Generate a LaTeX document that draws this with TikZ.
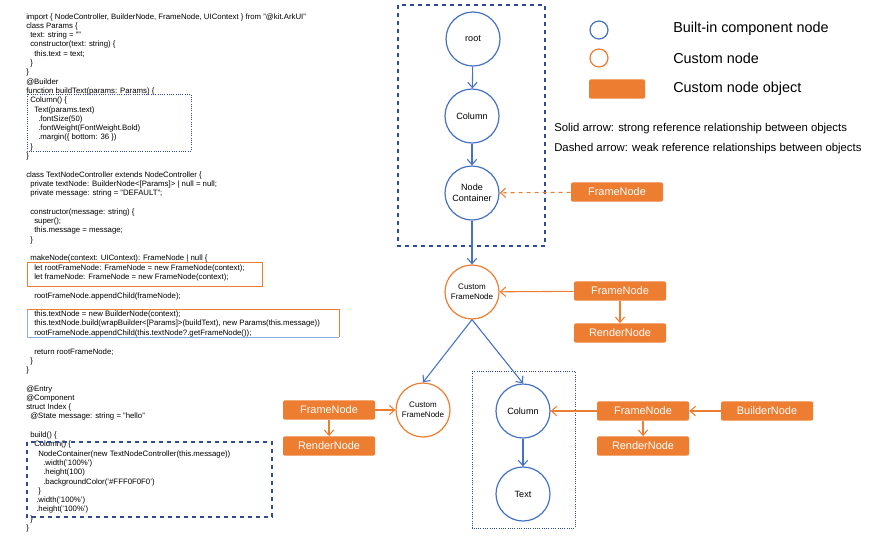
\documentclass[tikz,border=0pt]{standalone}
\usepackage{fontspec}
\setmainfont{Liberation Sans}
\usetikzlibrary{positioning, arrows.meta}
\definecolor{hblue}{RGB}{68,114,196}
\definecolor{horange}{RGB}{237,125,49}
\definecolor{hdark}{RGB}{47,75,150}
\tikzset{
    code/.style = {anchor=west, inner sep=0pt, font=\fontsize{5.85}{6}\selectfont},
    bnode/.style = {circle, draw=hblue, line width=0.9pt, minimum size=40.5pt, inner sep=0pt, align=center, font=\fontsize{6.8}{8}\selectfont},
    onode/.style = {circle, draw=horange, line width=0.9pt, minimum size=40.5pt, inner sep=0pt, align=center, font=\fontsize{6}{7.5}\selectfont},
    obj/.style = {rectangle, rounded corners=1.5pt, fill=horange, text=white, minimum width=69pt, minimum height=14.5pt, inner sep=0pt, font=\fontsize{8.2}{9}\selectfont},
    barr/.style = {hblue, line width=0.8pt, -{Straight Barb[length=4pt,width=7pt]}},
    oarr/.style = {horange, line width=0.8pt, -{Straight Barb[length=4pt,width=7pt]}},
}
\begin{document}
\begin{tikzpicture}[x=0.75pt, y=-0.75pt]
    \useasboundingbox (0,0) rectangle (870,536);

    % code listing
    \begin{scope}[yshift=-1.5pt]
    \node[code] (c0) at (26,15) {import \{ NodeController, BuilderNode, FrameNode, UIContext \} from "@kit.ArkUI"};
    \node[code] (c1) at (26,24.3) {class Params \{};
    \node[code] (c2) at (30,33.6) {text: string = ""};
    \node[code] (c3) at (30,42.9) {constructor(text: string) \{};
    \node[code] (c4) at (34,52.2) {this.text = text;};
    \node[code] (c5) at (30,61.5) {\}};
    \node[code] (c6) at (26,70.8) {\}};
    \node[code] (c7) at (26,80.1) {@Builder};
    \node[code] (c8) at (26,89.4) {function buildText(params: Params) \{};
    \node[code] (c9) at (30,98.7) {Column() \{};
    \node[code] (c10) at (34,108) {Text(params.text)};
    \node[code] (c11) at (38,117.3) {.fontSize(50)};
    \node[code] (c12) at (38,126.6) {.fontWeight(FontWeight.Bold)};
    \node[code] (c13) at (38,135.9) {.margin(\{ bottom: 36 \})};
    \node[code] (c14) at (30,145.2) {\}};
    \node[code] (c15) at (26,154.5) {\}};
    \node[code] (c17) at (26,173.1) {class TextNodeController extends NodeController \{};
    \node[code] (c18) at (30,182.4) {private textNode: BuilderNode<[Params]> | null = null;};
    \node[code] (c19) at (30,191.7) {private message: string = "DEFAULT";};
    \node[code] (c21) at (30,210.3) {constructor(message: string) \{};
    \node[code] (c22) at (34,219.6) {super();};
    \node[code] (c23) at (34,228.9) {this.message = message;};
    \node[code] (c24) at (30,238.2) {\}};
    \node[code] (c26) at (30,256.8) {makeNode(context: UIContext): FrameNode | null \{};
    \node[code] (c27) at (34,266.1) {let rootFrameNode: FrameNode = new FrameNode(context);};
    \node[code] (c28) at (34,275.4) {let frameNode: FrameNode = new FrameNode(context);};
    \node[code] (c30) at (34,294) {rootFrameNode.appendChild(frameNode);};
    \node[code] (c32) at (34,312.6) {this.textNode = new BuilderNode(context);};
    \node[code] (c33) at (34,321.9) {this.textNode.build(wrapBuilder<[Params]>(buildText), new Params(this.message))};
    \node[code] (c34) at (34,331.2) {rootFrameNode.appendChild(this.textNode?.getFrameNode());};
    \node[code] (c36) at (34,349.8) {return rootFrameNode;};
    \node[code] (c37) at (30,359.1) {\}};
    \node[code] (c38) at (26,368.4) {\}};
    \node[code] (c40) at (26,387) {@Entry};
    \node[code] (c41) at (26,396.3) {@Component};
    \node[code] (c42) at (26,405.6) {struct Index \{};
    \node[code] (c43) at (30,414.9) {@State message: string = "hello"};
    \node[code] (c45) at (30,433.5) {build() \{};
    \node[code] (c46) at (34,442.8) {Column() \{};
    \node[code] (c47) at (38,452.1) {NodeContainer(new TextNodeController(this.message))};
    \node[code] (c48) at (43,461.4) {.width('100\%')};
    \node[code] (c49) at (43,470.7) {.height(100)};
    \node[code] (c50) at (43,480) {.backgroundColor('\#FFF0F0F0')};
    \node[code] (c51) at (38,489.3) {\}};
    \node[code] (c52) at (36,498.6) {.width('100\%')};
    \node[code] (c53) at (36,507.9) {.height('100\%')};
    \node[code] (c54) at (30,517.2) {\}};
    \node[code] (c55) at (26,526.5) {\}};
    \end{scope}

    % code boxes
    \draw[hdark, densely dotted, line width=0.7pt] (27,94) rectangle (191,151);
    \draw[horange, line width=0.7pt] (27,262) rectangle (262,286);
    \draw[hblue!60, line width=0.7pt] (339,337) -- (27,337) -- (27,309);
    \draw[horange, line width=0.7pt] (27,309) -- (339,309) -- (339,337);
    \draw[hdark, dashed, line width=0.9pt] (27,442) rectangle (272,517);

    % legend
    \node[circle, draw=hblue, line width=0.9pt, minimum size=13.5pt, inner sep=0pt] (lgb) at (599,30) {};
    \node[circle, draw=horange, line width=0.9pt, minimum size=13.5pt, inner sep=0pt] (lgo) at (599,58) {};
    \node[rectangle, rounded corners=1.5pt, fill=horange, minimum width=42pt, minimum height=14.5pt] (lgr) at (617,89) {};
    \node[anchor=west, inner sep=0pt, font=\fontsize{10.8}{12}\selectfont] (lgbt) at (673,29) {Built-in component node};
    \node[anchor=west, inner sep=0pt, font=\fontsize{10.8}{12}\selectfont] (lgot) at (673,58) {Custom node};
    \node[anchor=west, inner sep=0pt, font=\fontsize{10.8}{12}\selectfont] (lgrt) at (673,89) {Custom node object};
    \node[anchor=west, inner sep=0pt, font=\fontsize{8.5}{9}\selectfont] (solid) at (554,129) {Solid arrow: strong reference relationship between objects};
    \node[anchor=west, inner sep=0pt, font=\fontsize{8.5}{9}\selectfont] (dash) at (554,149) {Dashed arrow: weak reference relationships between objects};

    % tree
    \draw[hdark, dashed, line width=0.9pt] (398,5) rectangle (545,246);
    \draw[hdark, densely dotted, line width=0.7pt] (472,371) rectangle (575,528);

    \node[bnode] (root) at (473,39) {root};
    \node[bnode] (col) at (472,116) {Column};
    \node[bnode] (nc) at (472,193) {Node\\Container};
    \node[onode] (cfn) at (472,292) {Custom\\FrameNode};
    \node[onode] (cfnl) at (423,410) {Custom\\FrameNode};
    \node[bnode] (colr) at (523,411) {Column};
    \node[bnode] (txt) at (523,494) {Text};

    \node[obj] (fn0) at (617,192) {FrameNode};
    \node[obj] (fn1) at (620,291) {FrameNode};
    \node[obj] (rn1) at (620,333) {RenderNode};
    \node[obj] (fn2) at (329,410) {FrameNode};
    \node[obj] (rn2) at (329,446) {RenderNode};
    \node[obj] (fn3) at (643,411) {FrameNode};
    \node[obj] (rn3) at (643,446) {RenderNode};
    \node[obj] (bn) at (767,411) {BuilderNode};

    \draw[barr] (root) -- (col);
    \draw[barr] (col) -- (nc);
    \draw[barr] (nc) -- (cfn);
    \draw[barr] (cfn.south) -- (cfnl.north);
    \draw[barr] (cfn.south) -- (colr.north);
    \draw[barr] (colr) -- (txt);
    \draw[oarr, dashed] (fn0) -- (nc);
    \draw[oarr] (fn1) -- (cfn);
    \draw[oarr] (fn1) -- (rn1);
    \draw[oarr] (fn2) -- (cfnl);
    \draw[oarr] (fn2) -- (rn2);
    \draw[oarr] (fn3) -- (colr);
    \draw[oarr] (fn3) -- (rn3);
    \draw[oarr] (bn) -- (fn3);
\end{tikzpicture}
\end{document}
